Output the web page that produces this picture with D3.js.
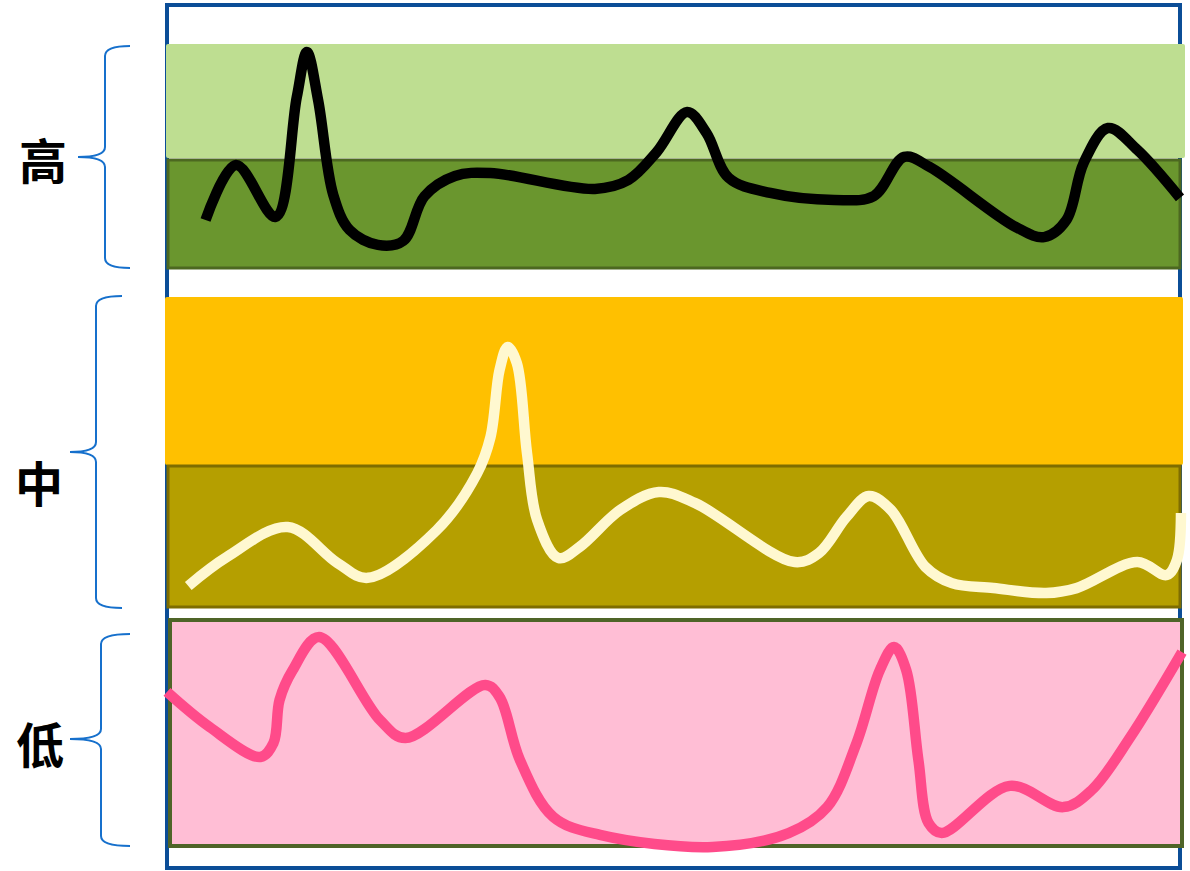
<!DOCTYPE html>
<html>
<head>
<meta charset="utf-8">
<script src="https://cdn.jsdelivr.net/npm/d3@7"></script>
<style>
html,body{margin:0;padding:0;background:#fff;}
svg{display:block;}
</style>
</head>
<body>
<svg id="chart" width="1190" height="871"></svg>
<script>
// ---- data ----
const levels = ["高", "中", "低"];

// high band series: time / level
const highX = [3.8,6.8,10.7,12.8,13.8,14.9,16.4,18.0,20.8,23.3,25.4,28.4,31.9,42.2,45.5,48.3,51.3,53.2,55.4,59.5,65.8,69.7,72.7,75.2,83.7,86.5,88.7,90.4,92.8,95.7,99.9];
const highY = [21.4,46.0,22.8,76.3,96.4,75.0,32.6,17.0,10.3,12.1,32.1,41.1,42.4,35.3,39.3,51.8,69.6,60.3,40.2,33.5,30.4,32.1,49.6,45.1,18.3,13.8,21.4,46.9,62.5,52.7,31.3];

const midX = [2.1,5.9,11.9,16.8,19.8,26.6,30.6,31.9,32.8,33.6,34.5,35.5,36.5,38.6,40.7,44.7,48.5,52.1,61.9,64.3,67.0,69.2,71.4,74.8,77.4,81.5,86.7,89.7,95.7,98.6,99.6,100.0];
const midY = [6.8,16.1,25.8,14.2,9.4,24.8,43.2,54.8,76.5,83.9,78.7,49.7,28.1,15.8,19.4,31.3,37.1,33.5,14.5,17.4,29.0,35.8,31.3,12.9,7.7,6.1,4.5,6.1,14.5,10.3,15.2,30.3];

const lowX = [0.0,4.2,9.2,10.5,11.1,12.4,15.0,21.0,23.5,31.4,32.8,34.8,38.1,42.7,53.8,61.3,65.1,68.0,70.3,71.7,72.9,74.1,75.1,76.4,83.1,88.4,91.2,95.0,100.1];
const lowY = [68.0,52.6,39.5,45.6,64.5,77.6,92.1,55.7,47.8,71.1,65.8,38.2,13.2,5.3,0.0,6.1,17.5,45.6,77.6,87.7,77.6,38.2,10.5,6.1,26.8,17.5,25.0,48.2,85.5];

// ---- layout ----
const svg = d3.select("#chart");
const x = d3.scaleLinear().domain([0, 100]).range([167, 1181]);
const yHigh = d3.scaleLinear().domain([0, 100]).range([268, 44]);
const yMid  = d3.scaleLinear().domain([0, 100]).range([607, 297]);
const yLow  = d3.scaleLinear().domain([0, 100]).range([847, 619]);

// outer frame
svg.append("rect").attr("x", 167).attr("y", 5).attr("width", 1013).attr("height", 863)
  .attr("fill", "none").attr("stroke", "#0B4D97").attr("stroke-width", 4);

// high band
svg.append("rect").attr("x", 166).attr("y", 44).attr("width", 1019).attr("height", 114)
  .attr("rx", 2).attr("fill", "#BEDE91");
svg.append("rect").attr("x", 168).attr("y", 160).attr("width", 1012).attr("height", 108)
  .attr("fill", "#6A962E").attr("stroke", "#4C6820").attr("stroke-width", 3);

// mid band
svg.append("rect").attr("x", 165).attr("y", 297).attr("width", 1018).attr("height", 168)
  .attr("rx", 2).attr("fill", "#FFC000");
svg.append("rect").attr("x", 168).attr("y", 466).attr("width", 1012).attr("height", 141)
  .attr("fill", "#B59F00").attr("stroke", "#7E6D00").attr("stroke-width", 3);

// low band
svg.append("rect").attr("x", 170).attr("y", 620).attr("width", 1012).attr("height", 226)
  .attr("fill", "#FFBED5").attr("stroke", "#4F6428").attr("stroke-width", 4);

// lines
function drawLine(xs, ys, yScale, color) {
  const pts = xs.map((d, i) => [d, ys[i]]);
  const line = d3.line().x(d => x(d[0])).y(d => yScale(d[1])).curve(d3.curveCatmullRom.alpha(0.5));
  svg.append("path").attr("d", line(pts)).attr("fill", "none")
    .attr("stroke", color).attr("stroke-width", 10.5).attr("stroke-linejoin", "round");
}
drawLine(highX, highY, yHigh, "#000000");
drawLine(midX, midY, yMid, "#FFF8D0");
drawLine(lowX, lowY, yLow, "#FF4B8A");

// braces + labels
const braces = [
  {label: levels[0], top: 46, tip: 157, bottom: 268, vx: 105, tx: 78, ex: 130, lx: 43, ly: 158},
  {label: levels[1], top: 296, tip: 452, bottom: 608, vx: 96, tx: 70, ex: 122, lx: 39, ly: 481},
  {label: levels[2], top: 634, tip: 739, bottom: 846, vx: 101, tx: 70, ex: 130, lx: 40, ly: 742}
];
braces.forEach(b => {
  const p = d3.path();
  p.moveTo(b.ex, b.top);
  p.quadraticCurveTo(b.vx, b.top, b.vx, b.top + 10);
  p.lineTo(b.vx, b.tip - 10);
  p.quadraticCurveTo(b.vx, b.tip, b.tx, b.tip);
  p.quadraticCurveTo(b.vx, b.tip, b.vx, b.tip + 10);
  p.lineTo(b.vx, b.bottom - 10);
  p.quadraticCurveTo(b.vx, b.bottom, b.ex, b.bottom);
  svg.append("path").attr("d", p.toString()).attr("fill", "none")
    .attr("stroke", "#1670CC").attr("stroke-width", 2);
  svg.append("text").attr("x", b.lx).attr("y", b.ly)
    .attr("text-anchor", "middle").attr("dominant-baseline", "central")
    .attr("font-family", "'Noto Sans CJK SC', 'Noto Sans CJK JP', sans-serif")
    .attr("font-weight", "bold").attr("font-size", 48).attr("fill", "#000")
    .text(b.label);
});
</script>
</body>
</html>
